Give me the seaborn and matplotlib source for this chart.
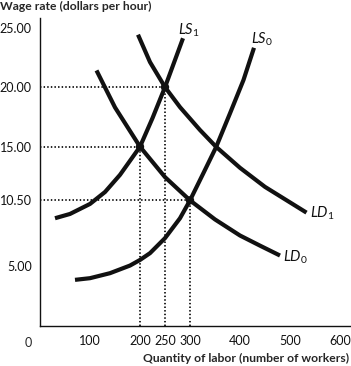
import matplotlib
matplotlib.use("Agg")
import matplotlib.pyplot as plt
import seaborn as sns
import pandas as pd

# Data
ls0_q = [70, 100, 140, 180, 200, 220, 250, 280, 300, 327, 352, 380, 407, 428]
ls0_w = [3.83, 3.97, 4.39, 5.03, 5.5, 6.07, 7.33, 9.0, 10.5, 12.8, 14.95, 17.8, 20.6, 23.3]

ls1_q = [30, 60, 100, 130, 160, 200, 225, 250, 286]
ls1_w = [9.0, 9.36, 10.2, 11.2, 12.64, 15.0, 17.4, 20.0, 24.1]

ld0_q = [113, 150, 200, 250, 300, 350, 400, 440, 480]
ld0_w = [21.4, 18.3, 15.0, 12.45, 10.5, 8.9, 7.55, 6.7, 5.87]

ld1_q = [196, 220, 250, 280, 320, 352, 400, 450, 533]
ld1_w = [24.4, 22.1, 20.0, 18.32, 16.4, 15.0, 13.23, 11.63, 9.47]

eq_q = [200, 250, 300]
eq_w = [15.0, 20.0, 10.5]

x_ticks = [100, 200, 250, 300, 400, 500, 600]
y_ticks = [5.00, 10.50, 15.00, 20.00, 25.00]
y_tick_labels = ["5.00", "10.50", "15.00", "20.00", "25.00"]

curve_labels = ["LS_1", "LS_0", "LD_1", "LD_0"]

sns.set_style("white")
plt.rcParams["font.family"] = ["Lato", "DejaVu Sans"]
plt.rcParams["mathtext.fontset"] = "custom"
plt.rcParams["mathtext.it"] = "Lato:italic"
plt.rcParams["mathtext.rm"] = "Lato"

fig = plt.figure(figsize=(3.51, 3.66), dpi=100)
ax = fig.add_axes([40 / 351, (366 - 325.5) / 366, 310 / 351, (325.5 - 18) / 366])

curves = [(ls0_q, ls0_w), (ls1_q, ls1_w), (ld0_q, ld0_w), (ld1_q, ld1_w)]
for q, w in curves:
    df = pd.DataFrame({"q": q, "w": w})
    sns.lineplot(data=df, x="q", y="w", ax=ax, color="#111111", linewidth=3.0,
                 solid_capstyle="butt", solid_joinstyle="round",
                 sort=False, estimator=None)

# dotted guide lines
for q, w in zip(eq_q, eq_w):
    ax.plot([0, q], [w, w], color="#111111", linewidth=1.3, linestyle=(0, (0.8, 1.2)))
    ax.plot([q, q], [0, w], color="#111111", linewidth=1.3, linestyle=(0, (0.8, 1.2)))

eq_df = pd.DataFrame({"q": eq_q, "w": eq_w})
sns.scatterplot(data=eq_df, x="q", y="w", ax=ax, color="#111111", s=36,
                edgecolor="none", zorder=5)

# curve labels
label_pos = [(276, 24.8), (422, 24.0), (541, 9.4), (486, 5.7)]
for lab, (x, y) in zip(curve_labels, label_pos):
    name, sub = lab.split("_")
    ax.text(x, y, r"$\mathit{%s}_{\mathrm{%s}}$" % (name, sub), fontsize=10.5,
            ha="left", va="center", color="#111111")

ax.set_xlim(0, 620)
ax.set_ylim(0, 25.8)
ax.set_xticks(x_ticks)
ax.set_xticklabels([str(t) for t in x_ticks])
ax.set_yticks(y_ticks)
ax.set_yticklabels(y_tick_labels)
ax.tick_params(axis="both", direction="inout", length=7, width=0.8,
               labelsize=9, colors="#111111", pad=2.5)
ax.tick_params(axis="x", length=6, pad=3.5)

for s in ["top", "right"]:
    ax.spines[s].set_visible(False)
for s in ["left", "bottom"]:
    ax.spines[s].set_color("#111111")
    ax.spines[s].set_linewidth(1.0)

ax.set_xlabel("")
ax.set_ylabel("")
ax.text(-24, -1.5, "0", fontsize=9, ha="center", va="center", clip_on=False)
fig.text(349 / 351, 1 - 358 / 366, "Quantity of labor (number of workers)",
         fontsize=8.7, fontweight="bold", ha="right", va="center")
fig.text(0.0, 1 - 6 / 366, "Wage rate (dollars per hour)",
         fontsize=8.7, fontweight="bold", ha="left", va="center")

fig.savefig("out.png", dpi=100)
